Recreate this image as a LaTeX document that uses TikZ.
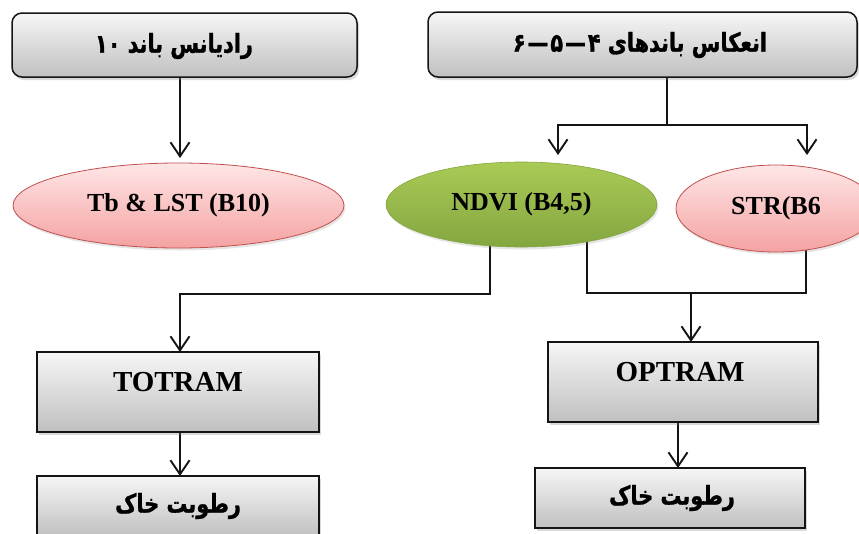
\documentclass[tikz,border=0pt]{standalone}
\usepackage{fontspec}
\setmainfont{Liberation Serif}
\newfontfamily\fa[Script=Arabic,FakeStretch=0.8,FakeBold=1.2]{DejaVu Sans}
\TeXXeTstate=1
\usetikzlibrary{shadows,arrows.meta,shapes.geometric}
\pgfdeclarelayer{bg}
\pgfsetlayers{bg,main}
\definecolor{boxtop}{RGB}{246,246,246}
\definecolor{boxbot}{RGB}{192,192,192}
\definecolor{pinktop}{RGB}{255,230,230}
\definecolor{pinkbot}{RGB}{244,162,162}
\definecolor{pinkline}{RGB}{192,80,77}
\definecolor{greentop}{RGB}{170,202,86}
\definecolor{greenbot}{RGB}{132,166,64}
\definecolor{ink}{RGB}{20,20,20}
\begin{document}
\begin{tikzpicture}[x=1pt,y=-1pt,
  conn/.style={line width=1.9pt, draw=ink},
  arr/.style={conn, -{Straight Barb[length=14pt,width=19pt]}},
  shad/.style={drop shadow={opacity=0.3,shadow xshift=2pt,shadow yshift=-3pt}},
  topbox/.style={draw=ink, line width=1.5pt, rounded corners=10pt, top color=boxtop, bottom color=boxbot, shad, inner sep=0pt, outer sep=0pt},
  sqbox/.style={draw=ink, line width=1.5pt, top color=boxtop, bottom color=boxbot, shad, inner sep=0pt, outer sep=0pt},
  pinkell/.style={ellipse, draw=pinkline, line width=0.8pt, top color=pinktop, bottom color=pinkbot, drop shadow={opacity=0.2,shadow xshift=1.5pt,shadow yshift=-2.5pt}, inner sep=0pt, outer sep=0pt, font=\fontsize{26}{30}\selectfont\bfseries},
  greenell/.style={ellipse, draw=greenbot, line width=0.6pt, top color=greentop, bottom color=greenbot, drop shadow={opacity=0.2,shadow xshift=1.5pt,shadow yshift=-2.5pt}, inner sep=0pt, outer sep=0pt, font=\fontsize{26}{30}\selectfont\bfseries},
  entext/.style={inner sep=0pt, font=\fontsize{29}{33}\selectfont\bfseries},
  fatext/.style={inner sep=0pt, font=\fa\bfseries\fontsize{26}{30}\selectfont}
]
\useasboundingbox (0,0) rectangle (859,533);
\clip (0,0) rectangle (859,533);

\node[topbox, minimum width=345pt, minimum height=64pt] (tl) at (184.5,45) {};
\node[fatext] (tlt) at (174,46) {\beginR رادیانس باند ۱۰\endR};
\node[topbox, minimum width=429pt, minimum height=65pt] (tr) at (642.5,44.5) {};
\node[fatext] (trt) at (640,45) {\beginR انعکاس باندهای ۴\kern2pt—\kern2pt۵\kern2pt—\kern2pt۶\endR};

\node[pinkell, minimum width=331pt, minimum height=85pt] (tb) at (178.5,205.5) {Tb \& LST (B10)};
\node[greenell, minimum width=271pt, minimum height=85pt] (ndvi) at (521.5,204.5) {NDVI (B4,5)};
\node[pinkell, minimum width=200pt, minimum height=87pt] (str) at (776,208.5) {STR(B6};

\node[sqbox, minimum width=282pt, minimum height=80pt] (totram) at (178,392) {};
\node[entext] (totramt) at (178,382) {TOTRAM};
\node[sqbox, minimum width=270pt, minimum height=80pt] (optram) at (683,382) {};
\node[entext] (optramt) at (680,372) {OPTRAM};

\node[sqbox, minimum width=282pt, minimum height=60pt] (soilL) at (178,506) {};
\node[fatext] (soilLt) at (178,506) {\beginR رطوبت خاک\endR};
\node[sqbox, minimum width=270pt, minimum height=60pt] (soilR) at (670,498) {};
\node[fatext] (soilRt) at (672,498) {\beginR رطوبت خاک\endR};

\coordinate (j1) at (667,125);
\coordinate (mL) at (180,294);
\coordinate (mR) at (691,293);
\coordinate (aL) at ([xshift=1.5pt]tb.north);

\begin{pgfonlayer}{bg}
\draw[arr, shorten >=5pt] (aL |- tl.south) -- (aL);
\draw[conn] (j1 |- tr.south) -- (j1);
\draw[arr, shorten >=7pt] (j1) -| ([xshift=36.5pt]ndvi.north);
\draw[arr, shorten >=10pt] (j1) -| ([xshift=31pt]str.north);
\draw[arr] ([xshift=-31.5pt]ndvi.center) |- (mL) -- (mL |- totram.north);
\draw[conn] ([xshift=65.5pt]ndvi.center) |- (mR) -| ([xshift=30pt]str.center);
\draw[arr] (mR) -- (mR |- optram.north);
\draw[arr] ([xshift=2pt]totram.south) -- ([xshift=2pt]soilL.north);
\draw[arr] ([xshift=-5pt]optram.south) -- ([xshift=8pt]soilR.north);
\end{pgfonlayer}
\end{tikzpicture}
\end{document}
